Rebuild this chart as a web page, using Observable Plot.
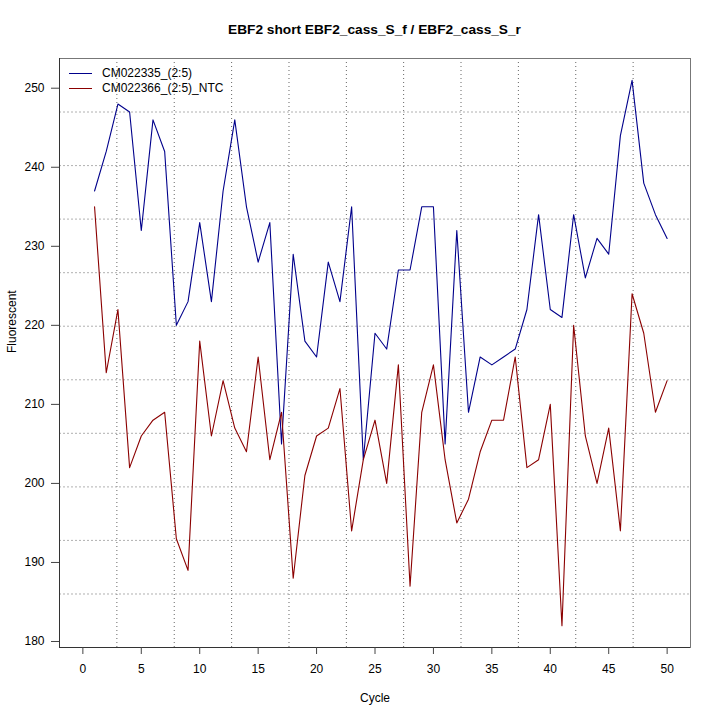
<!DOCTYPE html>
<html><head><meta charset="utf-8">
<script src="https://cdn.jsdelivr.net/npm/d3@7"></script>
<script src="https://cdn.jsdelivr.net/npm/@observablehq/plot@0.6"></script>
<style>
body{margin:0;background:#fff;font-family:"Liberation Sans",Arial,Helvetica,sans-serif;}
#wrap{position:relative;width:720px;height:720px;overflow:hidden;}
#title{position:absolute;left:59px;width:631px;top:22px;line-height:16px;text-align:center;font-size:13.7px;font-weight:bold;color:#000;}
#chart{position:absolute;left:0;top:40px;}
.lg{position:absolute;left:69px;font-size:12px;line-height:14px;color:#000;}
.lg .sw{position:absolute;left:0;width:23px;top:7px;height:0;border-top:1px solid;}
.lg .tx{position:absolute;left:33px;top:0;white-space:nowrap;}
</style></head><body>
<div id="wrap">
<div id="title">EBF2 short EBF2_cass_S_f / EBF2_cass_S_r</div>
<div id="chart"></div>
<div id="legend"></div>
</div>
<script>
const cycles = [1,2,3,4,5,6,7,8,9,10,11,12,13,14,15,16,17,18,19,20,21,22,23,24,25,26,27,28,29,30,31,32,33,34,35,36,37,38,39,40,41,42,43,44,45,46,47,48,49,50];
const seriesNames = ["CM022335_(2:5)", "CM022366_(2:5)_NTC"];
const seriesColors = ["#00008B", "#8B0000"];
const sample = [237,242,248,247,232,246,242,220,223,233,223,237,246,235,228,233,205,229,218,216,228,223,235,203,219,217,227,227,235,235,205,232,209,216,215,216,217,222,234,222,221,234,226,231,229,244,251,238,234,231];
const ntc = [235,214,222,202,206,208,209,193,189,218,206,213,207,204,216,203,209,188,201,206,207,212,194,203,208,200,215,187,209,215,203,195,198,204,208,208,216,202,203,210,182,220,206,200,207,194,224,219,209,213];
const xTicks = [0,5,10,15,20,25,30,35,40,45,50];
const yTicks = [180,190,200,210,220,230,240,250];
const xDomain = [-2, 52];
const yDomain = [179.24, 253.76];
const xGrid = [2.91,7.82,12.73,17.64,22.55,27.45,32.36,37.27,42.18,47.09];
const yGrid = [186.01,192.79,199.56,206.34,213.11,219.89,226.66,233.44,240.21,246.99];
const xLabel = "Cycle";
const yLabel = "Fluorescent";

const rows = [];
cycles.forEach((c,i)=>{ rows.push({cycle:c, value:sample[i], series:seriesNames[0]}); });
cycles.forEach((c,i)=>{ rows.push({cycle:c, value:ntc[i], series:seriesNames[1]}); });

const chart = Plot.plot({
  width: 720,
  height: 680,
  marginLeft: 59,
  marginRight: 30,
  marginTop: 18,
  marginBottom: 73,
  style: {fontFamily: '"Liberation Sans",Arial,Helvetica,sans-serif', fontSize: "12px", background: "#fff", color: "#000"},
  x: {domain: xDomain},
  y: {domain: yDomain},
  color: {domain: seriesNames, range: seriesColors},
  marks: [
    Plot.ruleX(xGrid, {stroke: "#666", strokeDasharray: "1,3", strokeWidth: 1}),
    Plot.ruleY(yGrid, {stroke: "#b0b0b0", strokeDasharray: "2,2", strokeWidth: 1}),
    Plot.frame({stroke: "#777"}),
    Plot.ruleX([xDomain[0]], {stroke: "#333"}),
    Plot.ruleY([yDomain[0]], {stroke: "#333"}),
    Plot.line(rows, {x: "cycle", y: "value", z: "series", stroke: "series", strokeWidth: 1.1}),
    Plot.axisX({ticks: xTicks, tickSize: 7, tickPadding: 10, fontSize: 12, label: null, stroke: "#444"}),
    Plot.axisY({ticks: yTicks, tickSize: 8, tickPadding: 7, fontSize: 12, label: null, stroke: "#444"}),
    Plot.text([yLabel], {text: d => d, frameAnchor: "left", dx: -47, rotate: -90, fontSize: 12}),
    Plot.text([xLabel], {text: d => d, frameAnchor: "bottom", dy: 54, fontSize: 12})
  ]
});
document.getElementById("chart").appendChild(chart);

const lg = document.getElementById("legend");
seriesNames.forEach((name, i) => {
  const row = document.createElement("div");
  row.className = "lg";
  row.style.top = (66 + i * 15) + "px";
  row.innerHTML = `<span class="sw" style="border-color:${seriesColors[i]}"></span><span class="tx">${name}</span>`;
  lg.appendChild(row);
});
</script>
</body></html>
